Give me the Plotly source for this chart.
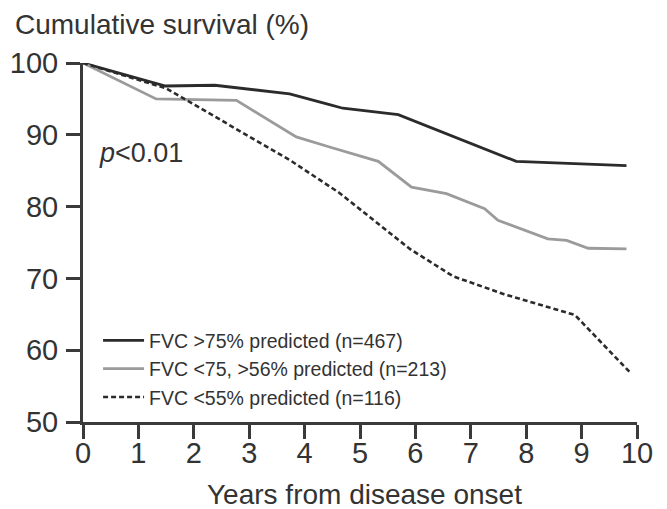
import plotly.graph_objects as go

# Data
t_high = [0, 1.49, 2.38, 3.73, 4.45, 4.69, 5.69, 7.82, 9.81]
s_high = [100, 96.8, 96.9, 95.7, 94.2, 93.7, 92.8, 86.3, 85.7]

t_mid = [0, 1.32, 2.77, 3.85, 4.45, 5.33, 5.93, 6.56, 7.25, 7.49, 8.39, 8.73, 9.12, 9.81]
s_mid = [100, 95.0, 94.8, 89.7, 88.3, 86.3, 82.7, 81.8, 79.7, 78.1, 75.5, 75.3, 74.2, 74.1]

t_low = [0, 1.49, 2.5, 3.73, 4.63, 5.9, 6.68, 7.6, 8.88, 9.9]
s_low = [100, 96.5, 92.0, 86.5, 81.9, 74.1, 70.3, 67.8, 64.9, 56.7]

names = ["FVC &gt;75% predicted (n=467)",
         "FVC &lt;75, &gt;56% predicted (n=213)",
         "FVC &lt;55% predicted (n=116)"]

x_ticks = list(range(0, 11))
y_ticks = [50, 60, 70, 80, 90, 100]

FONT = "Liberation Sans, Arial, Helvetica, sans-serif"
TXT = "#333333"

fig = go.Figure()
fig.add_trace(go.Scatter(x=t_high, y=s_high, mode="lines", name=names[0],
                         line=dict(color="#2b2b2b", width=2.8)))
fig.add_trace(go.Scatter(x=t_mid, y=s_mid, mode="lines", name=names[1],
                         line=dict(color="#9b9b9b", width=2.8)))
fig.add_trace(go.Scatter(x=t_low, y=s_low, mode="lines", name=names[2],
                         line=dict(color="#2b2b2b", width=2.6, dash="5px,3px")))

axis_common = dict(showgrid=False, zeroline=False, showline=True, linecolor="#3a3a3a",
                   linewidth=3, ticks="outside", ticklen=14, tickwidth=3, tickcolor="#3a3a3a",
                   tickfont=dict(family=FONT, size=29, color=TXT))

fig.update_xaxes(range=[0, 10], tickvals=x_ticks, ticklabelstandoff=-11, **axis_common)
fig.update_yaxes(range=[50, 100], tickvals=y_ticks, ticklabelstandoff=2, **axis_common)

fig.update_layout(
    width=667, height=509,
    margin=dict(l=83, r=30, t=63, b=87, autoexpand=False),
    plot_bgcolor="white", paper_bgcolor="white",
    font=dict(family=FONT, color=TXT),
    showlegend=True,
    legend=dict(x=0.0272, y=0.281, xanchor="left", yanchor="top", itemwidth=41,
                font=dict(family=FONT, size=19.5, color=TXT),
                bgcolor="rgba(0,0,0,0)"),
    annotations=[
        dict(text="Cumulative survival (%)", xref="paper", yref="paper", x=-0.127, y=1.107,
             xanchor="left", yanchor="middle", showarrow=False,
             font=dict(family=FONT, size=28, color=TXT)),
        dict(text="Years from disease onset", xref="paper", yref="paper", x=0.508, y=-0.2025,
             xanchor="center", yanchor="middle", showarrow=False,
             font=dict(family=FONT, size=28, color=TXT)),
        dict(text="<i>p</i>&lt;0.01", xref="x", yref="y", x=0.26, y=87.4,
             xanchor="left", yanchor="middle", showarrow=False,
             font=dict(family=FONT, size=27, color=TXT)),
    ],
)

fig.write_html("out.html", config={"displayModeBar": False},
               post_script="document.body.style.margin='0px';")
